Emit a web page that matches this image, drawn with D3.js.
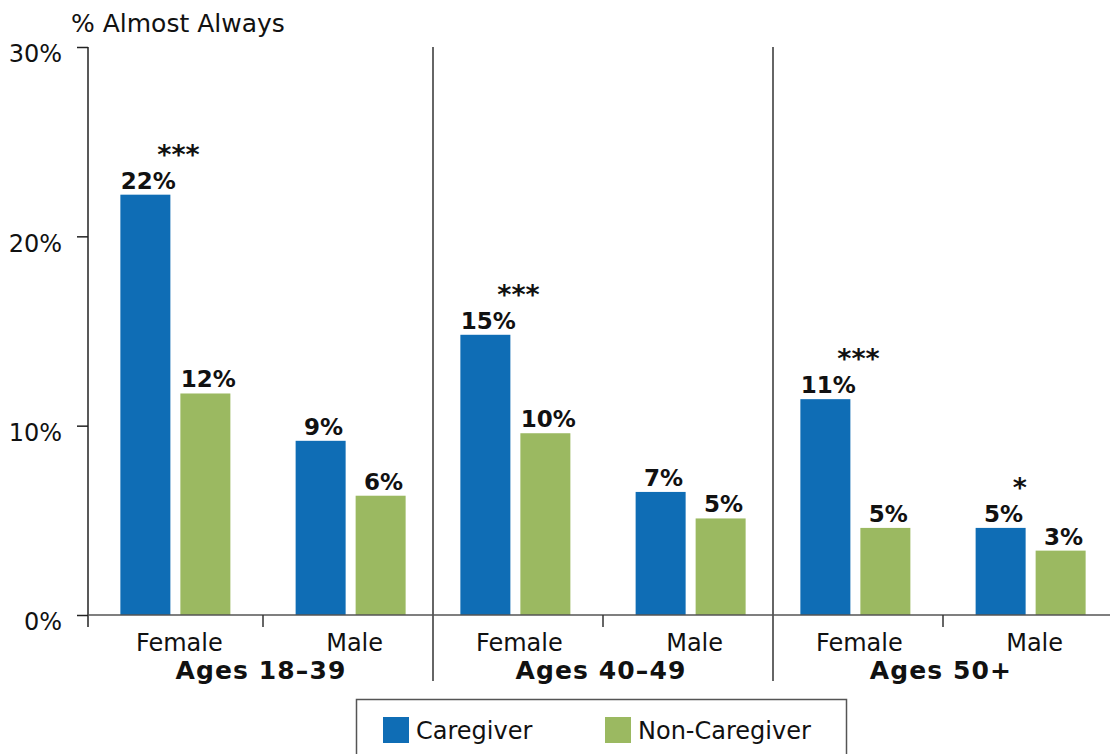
<!DOCTYPE html>
<html>
<head>
<meta charset="utf-8">
<script src="https://cdn.jsdelivr.net/npm/d3@7"></script>
<style>
  body { margin: 0; background: #fff; }
  text { font-family: "DejaVu Sans", sans-serif; fill: #111; }
</style>
</head>
<body>
<div id="chart"></div>
<script>
const groups = ["Ages 18–39", "Ages 40–49", "Ages 50+"];
const sexes = ["Female", "Male"];
const seriesNames = ["Caregiver", "Non-Caregiver"];
const seriesColors = ["#0f6db5", "#9bb961"];

// order: group x sex
const caregiverValues = [22.2, 9.2, 14.8, 6.5, 11.4, 4.6];
const nonCaregiverValues = [11.7, 6.3, 9.6, 5.1, 4.6, 3.4];
const significance = ["***", "", "***", "", "***", "*"];
const yTicks = [0, 10, 20, 30];

const width = 1110, height = 754;
const axisX = 88, plotTop = 47, base = 615;

const svg = d3.select("#chart")
    .append("svg")
    .attr("width", width)
    .attr("height", height);

const rows = [];
groups.forEach((g, gi) => {
    sexes.forEach((s, si) => {
        const i = gi * 2 + si;
        rows.push({
            group: g, sex: s, idx: i,
            values: [caregiverValues[i], nonCaregiverValues[i]],
            sig: significance[i]
        });
    });
});

const y = d3.scaleLinear().domain([0, 30]).range([base, plotTop]);
const xGroup = d3.scaleBand().domain(groups).range([93, 1113]);
const xSex = d3.scalePoint().domain(sexes).range([0, xGroup.bandwidth()]).padding(0.47);
const xSeries = d3.scaleBand().domain(seriesNames)
    .range([-55, 55])
    .paddingInner(0.1667);

// y axis
const yAxis = svg.append("g")
    .attr("transform", `translate(${axisX},0)`)
    .call(d3.axisLeft(y).tickValues(yTicks).tickFormat(d => d + "%").tickSize(11).tickSizeOuter(0));
yAxis.select(".domain").remove();
yAxis.selectAll(".tick line").attr("stroke", "#222").attr("stroke-width", 1.5);
yAxis.selectAll(".tick text")
    .attr("x", -26)
    .attr("dy", "0.62em")
    .style("font-size", "24px")
    .style("font-family", "DejaVu Sans, sans-serif")
    .attr("fill", "#111");

svg.append("line")
    .attr("x1", axisX).attr("x2", axisX)
    .attr("y1", y(30)).attr("y2", base + 12)
    .attr("stroke", "#222").attr("stroke-width", 1.5);

svg.append("text")
    .attr("x", 71).attr("y", 32)
    .style("font-size", "25px")
    .text("% Almost Always");

// group separators
groups.slice(1).forEach(g => {
    svg.append("line")
        .attr("x1", xGroup(g)).attr("x2", xGroup(g))
        .attr("y1", y(30)).attr("y2", 681)
        .attr("stroke", "#333").attr("stroke-width", 1.5);
});

// bars
const cells = svg.selectAll(".cell")
    .data(rows)
    .enter()
    .append("g")
    .attr("class", "cell")
    .attr("transform", d => `translate(${xGroup(d.group) + xSex(d.sex)},0)`);

cells.selectAll("rect")
    .data(d => d.values.map((v, k) => ({ v, k })))
    .enter()
    .append("rect")
    .attr("x", d => xSeries(seriesNames[d.k]))
    .attr("width", xSeries.bandwidth())
    .attr("y", d => y(d.v))
    .attr("height", d => base - y(d.v))
    .attr("fill", d => seriesColors[d.k]);

cells.selectAll(".val")
    .data(d => d.values.map((v, k) => ({ v, k })))
    .enter()
    .append("text")
    .attr("class", "val")
    .attr("x", d => xSeries(seriesNames[d.k]) + xSeries.bandwidth() / 2 + 3)
    .attr("y", d => y(d.v) - 6)
    .attr("text-anchor", "middle")
    .style("font-size", "23px")
    .style("font-weight", "bold")
    .text(d => Math.round(d.v) + "%");

cells.append("text")
    .attr("x", xSeries("Caregiver") + xSeries.bandwidth() / 2 + 12)
    .attr("y", d => y(d.values[0]) - 31)
    .style("font-size", "27px")
    .style("font-weight", "bold")
    .text(d => d.sig);

// baseline and bottom ticks
svg.append("line")
    .attr("x1", axisX).attr("x2", width)
    .attr("y1", base).attr("y2", base)
    .attr("stroke", "#555").attr("stroke-width", 1.5);

groups.forEach(g => {
    const mid = xGroup(g) + (xSex("Female") + xSex("Male")) / 2;
    svg.append("line")
        .attr("x1", mid).attr("x2", mid)
        .attr("y1", base).attr("y2", base + 12)
        .attr("stroke", "#333").attr("stroke-width", 1.5);
});

cells.append("text")
    .attr("x", 4)
    .attr("y", 651)
    .attr("text-anchor", "middle")
    .style("font-size", "24px")
    .text(d => d.sex);

svg.selectAll(".grp")
    .data(groups)
    .enter()
    .append("text")
    .attr("class", "grp")
    .attr("x", d => xGroup(d) + xGroup.bandwidth() / 2 - 2)
    .attr("y", 679)
    .attr("text-anchor", "middle")
    .style("font-size", "25px")
    .style("font-weight", "bold")
    .style("letter-spacing", "1.1px")
    .text(d => d);

// legend
const legend = svg.append("g");
legend.append("rect")
    .attr("x", 356.5).attr("y", 699.5)
    .attr("width", 490).attr("height", 80)
    .attr("fill", "none")
    .attr("stroke", "#555").attr("stroke-width", 1.5);

const legendX = [383, 605];
seriesNames.forEach((s, i) => {
    legend.append("rect")
        .attr("x", legendX[i]).attr("y", 717)
        .attr("width", 26).attr("height", 26)
        .attr("fill", seriesColors[i]);
    legend.append("text")
        .attr("x", legendX[i] + 33).attr("y", 739)
        .style("font-size", "24px")
        .text(s);
});
</script>
</body>
</html>
